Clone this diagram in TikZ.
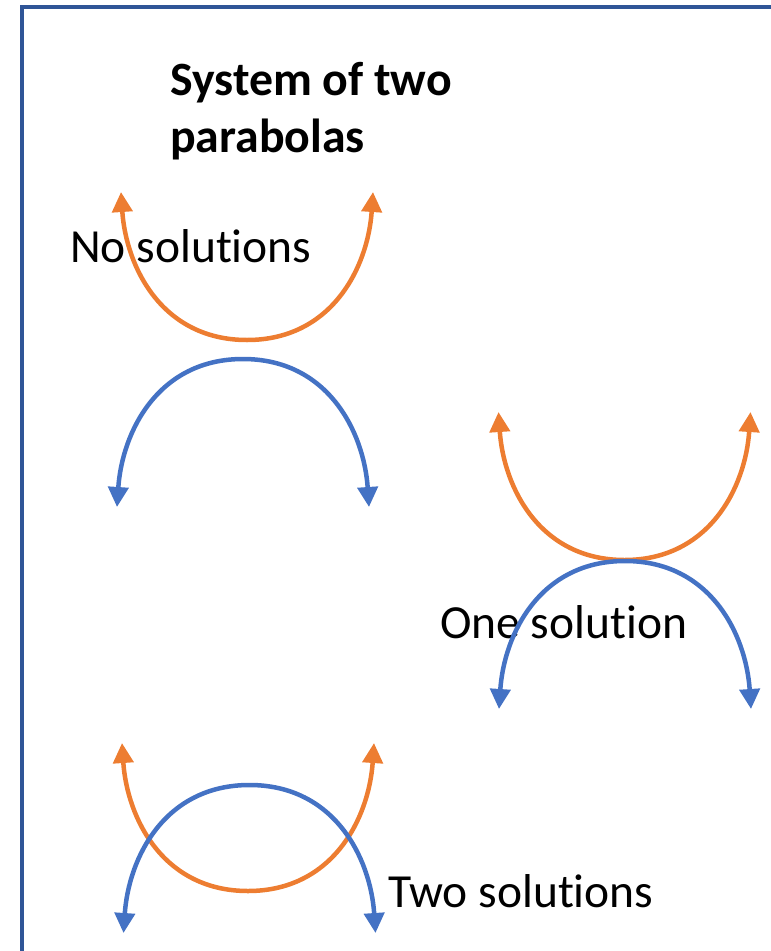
\documentclass[tikz,border=0pt]{standalone}
\usepackage{fontspec}
\setmainfont[Ligatures=NoCommon]{Carlito}
\usetikzlibrary{arrows.meta}
\definecolor{arcorange}{HTML}{ED7D31}
\definecolor{arcblue}{HTML}{4472C4}
\definecolor{frameblue}{HTML}{2F5597}
\tikzset{
  lbl/.style={anchor=base west, inner sep=0pt, font=\fontsize{47.5}{56}\selectfont},
  ttl/.style={anchor=base west, inner sep=0pt, font=\fontsize{47.8}{57}\selectfont\bfseries, align=left},
  arcline/.style={line width=4.5pt, {Triangle[length=20pt,width=20pt]}-{Triangle[length=20pt,width=20pt]}},
  parab/.pic={
    \draw[arcline, pic actions] (-126,0) .. controls (-121,75) and (-85,148) .. (0,148)
      .. controls (85,148) and (121,75) .. (126,0);
  }
}
\begin{document}
\begin{tikzpicture}[x=1pt,y=-1pt]
\useasboundingbox (0,0) rectangle (771,951);
\draw[frameblue, line width=3.5pt] (780,7) -- (22,7) -- (22,960);
% texts
\node[ttl] (title1) at (170,95) {System of two};
\node[ttl] (title2) at (170,152) {parabolas};
\node[lbl] (nosol) at (70,262) {No solutions};
\node[lbl] (onesol) at (440,638) {One solution};
\node[lbl] (twosol) at (388,907) {Two solutions};
% no solutions
\pic[arcorange] at (247,192) {parab};
\pic[arcblue, yscale=-1] at (243,507) {parab};
% one solution
\pic[arcorange] at (624.5,412) {parab};
\pic[arcblue, yscale=-1] at (625,709) {parab};
% two solutions
\pic[arcorange] at (248,743) {parab};
\pic[arcblue, yscale=-1] at (249.5,933) {parab};
\end{tikzpicture}
\end{document}
